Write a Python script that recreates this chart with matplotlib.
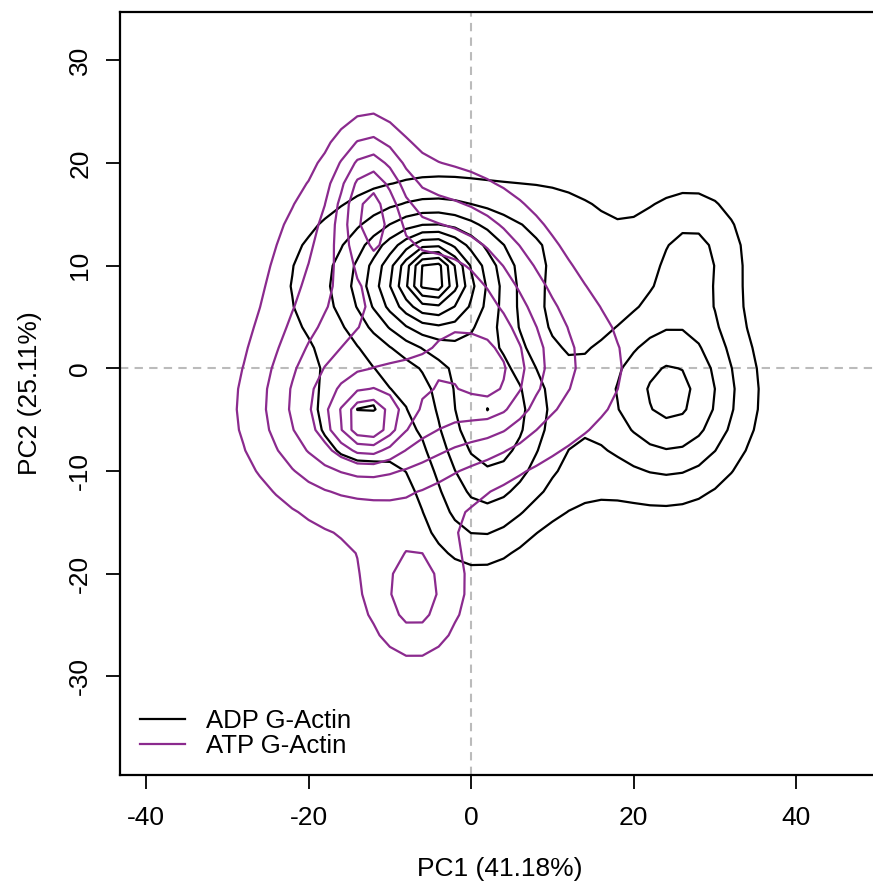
import numpy as np
import matplotlib
matplotlib.use("Agg")
import matplotlib.pyplot as plt
from matplotlib.lines import Line2D

plt.rcParams['font.family'] = ['Liberation Sans', 'DejaVu Sans']
plt.rcParams['axes.unicode_minus'] = False

# ---- Data: density components
# (centre, spread, correlation, height in contour-level units)
adp_cx = [-4.8, -5.0, -8.0, 2.5, 24.7, 27.5, 10.0, -14.0, 10.0, 15.0, 0.5]
adp_cy = [9.2, 8.5, 8.0, -4.5, -2.5, 11.5, 13.0, -5.0, -12.0, -2.0, -15.0]
adp_sx = [2.0, 5.5, 11.0, 6.0, 6.2, 4.5, 8.0, 4.0, 7.0, 4.0, 4.5]
adp_sy = [1.8, 4.2, 6.5, 6.0, 6.2, 4.5, 5.0, 3.5, 3.0, 6.0, 4.0]
adp_rho = [0.0, 0.0, 0.0, 0.0, 0.0, 0.0, 0.0, 0.0, 0.0, 0.0, 0.0]
adp_h = [3.5, 5.5, 2.2, 4.7, 4.3, 1.9, 1.2, 1.6, 0.5, 0.6, 1.3]

atp_cx = [-12.8, -12.5, 2.0, 3.0, -3.0, -12.5, -12.0, -4.0, -19.0, -7.0, -7.0]
atp_cy = [-5.3, -5.0, 0.0, -1.5, 8.0, 16.5, 12.0, 14.0, 3.0, -22.0, -21.0]
atp_sx = [2.5, 9.0, 11.0, 3.0, 8.0, 2.8, 7.0, 9.0, 6.0, 3.0, 8.5]
atp_sy = [2.0, 5.5, 6.0, 3.5, 5.0, 4.5, 8.0, 5.0, 10.0, 4.0, 6.0]
atp_rho = [0.0, 0.0, 0.0, 0.0, 0.0, 0.0, 0.0, 0.0, 0.0, 0.0, 0.0]
atp_h = [3.4, 3.5, 3.0, 1.4, 2.5, 3.3, 0.8, 1.2, 1.3, 1.6, 1.0]

adp_levels = [1, 2, 3, 4, 5, 6, 7, 8, 9, 10, 11]
atp_levels = [1, 2, 3, 4, 5, 6, 7]

series_names = ["ADP G-Actin", "ATP G-Actin"]
series_colors = ["black", "#8b2a8e"]

xlabel = "PC1 (41.18%)"
ylabel = "PC2 (25.11%)"
xticks = [-40, -20, 0, 20, 40]
yticks = [-30, -20, -10, 0, 10, 20, 30]


def density(gx, gy, cx, cy, sx, sy, rho, h):
    z = np.zeros_like(gx)
    for a, b, s1, s2, r, hh in zip(cx, cy, sx, sy, rho, h):
        dx = (gx - a) / s1
        dy = (gy - b) / s2
        q = (dx * dx - 2 * r * dx * dy + dy * dy) / (1 - r * r)
        z += hh * np.exp(-0.5 * q)
    return z


fig = plt.figure(figsize=(8.73, 8.84), dpi=100)
ax = fig.add_axes([120 / 873, 1 - 775 / 884, 760 / 873, 763 / 884])

xs = np.linspace(-32, 40, 37)
ys = np.linspace(-34, 30, 33)
GX, GY = np.meshgrid(xs, ys)

za = density(GX, GY, adp_cx, adp_cy, adp_sx, adp_sy, adp_rho, adp_h)
zt = density(GX, GY, atp_cx, atp_cy, atp_sx, atp_sy, atp_rho, atp_h)

ax.axvline(0, color="#bbbbbb", lw=1.5, ls=(0, (4, 3)), zorder=0)
ax.axhline(0, color="#bbbbbb", lw=1.5, ls=(0, (4, 3)), zorder=0)

ax.contour(GX, GY, za, levels=adp_levels, colors=series_colors[0], linewidths=1.6)
ax.contour(GX, GY, zt, levels=atp_levels, colors=series_colors[1], linewidths=1.6)

ax.set_xlim(-43.2, 50.3)
ax.set_ylim(-39.6, 34.7)
ax.set_xticks(xticks)
ax.set_yticks(yticks)
ax.set_yticklabels([str(v) for v in yticks], rotation=90, va="center")
ax.tick_params(direction="out", length=10, width=1.3, labelsize=19)
ax.tick_params(axis="x", pad=12)
ax.tick_params(axis="y", pad=10)
for s in ax.spines.values():
    s.set_linewidth(1.6)
ax.spines["right"].set_visible(False)
ax.set_xlabel(xlabel, fontsize=19, labelpad=20)
ax.set_ylabel(ylabel, fontsize=19, labelpad=19)

handles = [Line2D([], [], color=c, lw=1.6) for c in series_colors]
ax.legend(handles, series_names, loc="upper left", frameon=False, fontsize=18.5,
          handlelength=1.75, handletextpad=0.8, labelspacing=0.05,
          borderpad=0, borderaxespad=0,
          bbox_to_anchor=(140 / 873, 1 - 709 / 884), bbox_transform=fig.transFigure)

fig.savefig("out.png", dpi=100)
